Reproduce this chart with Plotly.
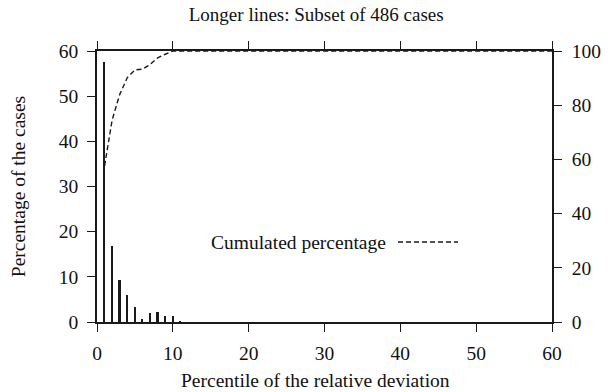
import plotly.graph_objects as go

# Data
percentile = [1, 2, 3, 4, 5, 6, 7, 8, 9, 10, 11]
pct_cases = [57.5, 16.8, 9.4, 6.0, 3.4, 0.7, 1.9, 2.3, 1.3, 1.3, 0.2]

cum_x = [1, 2, 3, 4, 5, 6, 7, 8, 9, 10, 60]
cum_pct = [57.6, 74.6, 84.0, 90.2, 93.0, 93.3, 95.0, 97.5, 98.8, 100.0, 100.0]

x_ticks = [0, 10, 20, 30, 40, 50, 60]
y_ticks = [0, 10, 20, 30, 40, 50, 60]
y2_ticks = [0, 20, 40, 60, 80, 100]

FONT = "Liberation Serif"
INK = "#1a1a1a"
TXT = 19.5

fig = go.Figure()
fig.add_trace(go.Bar(
    x=percentile, y=pct_cases, width=0.22,
    marker=dict(color=INK, line=dict(width=0)),
    showlegend=False, hoverinfo="skip",
))
fig.add_trace(go.Scatter(
    x=cum_x, y=cum_pct, yaxis="y2", mode="lines",
    line=dict(color=INK, width=1.4, dash="5px,3px"),
    showlegend=False, cliponaxis=False, hoverinfo="skip",
))

axis_common = dict(
    showgrid=False, zeroline=False, showline=True, linecolor=INK, linewidth=1.5,
    ticks="outside", ticklen=8, tickwidth=1.2, tickcolor=INK, automargin=False,
    tickfont=dict(family=FONT, size=TXT, color="#111"),
)

fig.update_layout(
    width=614, height=392,
    margin=dict(l=97, r=62, t=51, b=70),
    paper_bgcolor="white", plot_bgcolor="white",
    font=dict(family=FONT, color="#111"),
    bargap=0,
    title=dict(text="Longer lines: Subset of 486 cases", x=0.515, xanchor="center",
               y=1 - 14 / 392, yanchor="middle", font=dict(family=FONT, size=19)),
    xaxis=dict(range=[0, 60], tickvals=x_ticks, mirror="ticks",
               ticklabelstandoff=5, **axis_common),
    yaxis=dict(range=[0, 60], tickvals=y_ticks, ticklabelstandoff=5,
               title=dict(text="Percentage of the cases",
                          font=dict(family=FONT, size=TXT), standoff=28),
               **axis_common),
    yaxis2=dict(range=[0, 100], tickvals=y2_ticks, overlaying="y", side="right",
                ticklabelstandoff=6, **axis_common),
    annotations=[
        dict(text="Cumulated percentage", xref="paper", yref="paper",
             x=(388 - 97) / 455, y=(322 - 242) / 271,
             xanchor="right", yanchor="middle", showarrow=False,
             font=dict(family=FONT, size=TXT)),
        dict(text="Percentile of the relative deviation", xref="paper", yref="paper",
             x=(315 - 97) / 455, y=-(380 - 322) / 271,
             xanchor="center", yanchor="middle", showarrow=False,
             font=dict(family=FONT, size=TXT)),
    ],
    shapes=[dict(type="line", xref="paper", yref="paper",
                 x0=(398 - 97) / 455, x1=(458 - 97) / 455,
                 y0=(322 - 242) / 271, y1=(322 - 242) / 271,
                 line=dict(color=INK, width=1.4, dash="5px,3px"))],
)

# remove the default page margin so the figure starts at the window's corner
fig.write_html("out.html", config={"displayModeBar": False},
               post_script="document.body.style.margin='0';")
